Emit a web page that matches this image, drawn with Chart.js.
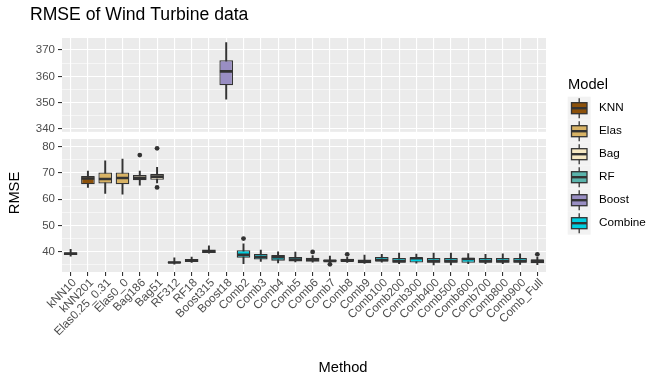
<!DOCTYPE html>
<html>
<head>
<meta charset="utf-8">
<script src="https://cdn.jsdelivr.net/npm/chart.js@4/dist/chart.umd.min.js"></script>
<style>
  html, body { margin: 0; padding: 0; background: #fff; }
  #wrap { width: 666px; height: 384px; }
</style>
</head>
<body>
<div id="wrap"><canvas id="rmseChart" width="666" height="384"></canvas></div>
<script>
const methods = ["kNN10", "kNN201", "Elas0.25_0.31", "Elas0_0", "Bag186", "Bag51", "RF312", "RF18",
  "Boost315", "Boost18", "Comb2", "Comb3", "Comb4", "Comb5", "Comb6", "Comb7", "Comb8", "Comb9",
  "Comb100", "Comb200", "Comb300", "Comb400", "Comb500", "Comb600", "Comb700", "Comb800", "Comb900", "Comb_Full"];
const modelOf = ["KNN", "KNN", "Elas", "Elas", "Bag", "Bag", "RF", "RF", "Boost", "Boost",
  "Combine", "Combine", "Combine", "Combine", "Combine", "Combine", "Combine", "Combine",
  "Combine", "Combine", "Combine", "Combine", "Combine", "Combine", "Combine", "Combine", "Combine", "Combine"];

// five-number summaries
const whiskerLow = [38.3, 64.5, 62.2, 61.9, 65.3, 66.2, 35.3, 35.9, 39.4, 351.3,
  35.4, 36.3, 35.7, 36.1, 36.0, 35.8, 35.9, 35.5, 36.0, 35.4, 35.6, 35.0, 35.0, 35.4, 35.4, 35.4, 35.2, 35.1];
const q1 = [38.7, 65.7, 66.0, 65.7, 67.2, 67.4, 35.6, 36.1, 39.5, 356.6,
  37.7, 37.0, 36.6, 36.3, 36.2, 36.2, 36.2, 35.6, 36.3, 35.8, 35.9, 35.8, 35.8, 35.8, 35.8, 35.8, 35.8, 35.6];
const median = [39.2, 67.9, 67.7, 68.1, 68.2, 68.6, 35.9, 36.6, 40.0, 361.9,
  38.8, 38.0, 37.9, 37.0, 37.0, 36.5, 36.6, 36.3, 36.8, 36.4, 37.5, 36.4, 36.4, 37.2, 36.4, 36.4, 36.4, 36.5];
const q3 = [39.8, 68.8, 70.2, 70.2, 69.2, 69.6, 36.3, 37.2, 40.8, 366.1,
  40.6, 39.1, 38.7, 38.0, 37.7, 36.9, 37.3, 37.0, 38.0, 37.6, 37.9, 37.6, 37.6, 37.7, 37.6, 37.6, 37.6, 37.0];
const whiskerHigh = [40.9, 70.7, 74.6, 75.3, 70.7, 72.1, 37.7, 38.0, 42.2, 372.8,
  43.0, 40.6, 40.0, 39.9, 38.5, 38.3, 37.9, 38.7, 39.0, 39.5, 39.1, 39.5, 39.5, 39.3, 39.0, 39.2, 39.2, 37.9];

const outlierMethod = ["Bag186", "Bag51", "Bag51", "Comb2", "Comb6", "Comb7", "Comb8", "Comb_Full"];
const outlierRmse = [76.8, 79.4, 64.5, 45.0, 39.9, 35.2, 39.0, 39.0];

const modelNames = ["KNN", "Elas", "Bag", "RF", "Boost", "Combine"];
const modelColors = ["#8C510A", "#D8B365", "#F6E8C3", "#5AB4AC", "#998EC3", "#00CFE0"];

// broken y axis: upper panel holds the one big method
const upperPanelMethods = ["Boost18"];
const upperMajor = [340, 350, 360, 370];
const upperMinor = [345, 355, 365];
const lowerMajor = [40, 50, 60, 70, 80];
const lowerMinor = [35, 45, 55, 65, 75];

const FONT = "'Liberation Sans', Arial, sans-serif";
const INK = "#333333";

const boxColors = modelOf.map((m) => modelColors[modelNames.indexOf(m)]);
const onUpper = methods.map((m) => upperPanelMethods.includes(m));

function datasetsFor(axisId, upper) {
  const keep = (v, i) => (onUpper[i] === upper ? v : null);
  const outliers = outlierMethod
    .map((m, k) => ({ x: m, y: outlierRmse[k] }))
    .filter((p) => onUpper[methods.indexOf(p.x)] === upper);
  return [
    {
      type: "line", yAxisID: axisId, order: 1, showLine: false,
      data: outliers, pointRadius: 2.4, pointBackgroundColor: INK, pointBorderWidth: 0,
    },
    {
      type: "line", yAxisID: axisId, order: 2, showLine: false,
      data: median.map(keep), pointStyle: "line", pointRadius: 6.3,
      pointBorderColor: INK, pointBorderWidth: 2.6,
    },
    {
      type: "bar", yAxisID: axisId, order: 3, grouped: false,
      data: methods.map((m, i) => keep([q1[i], q3[i]], i)),
      backgroundColor: boxColors, borderColor: INK, borderWidth: 1.3, borderSkipped: false,
      barPercentage: 0.79, categoryPercentage: 1,
    },
    {
      type: "bar", yAxisID: axisId, order: 4, grouped: false,
      data: methods.map((m, i) => keep([whiskerLow[i], whiskerHigh[i]], i)),
      backgroundColor: INK, borderWidth: 0, barThickness: 1.3,
    },
  ];
}

function yScale(min, max, weight, major, minor) {
  return {
    type: "linear", position: "left", stack: "rmse", stackWeight: weight,
    min: min, max: max,
    afterBuildTicks: (scale) => {
      scale.ticks = major.concat(minor).sort((a, b) => a - b).map((v) => ({ value: v }));
    },
    afterFit: (scale) => { scale.width = 32; },
    border: { display: false },
    grid: {
      color: "#FFFFFF",
      lineWidth: (c) => (major.includes(c.tick.value) ? 1.1 : 0.55),
      tickLength: 4,
      tickColor: (c) => (major.includes(c.tick.value) ? INK : "rgba(0,0,0,0)"),
    },
    ticks: {
      color: "#4D4D4D", font: { family: FONT, size: 11.5 }, padding: 3, autoSkip: false,
      callback: (v) => (major.includes(v) ? v : ""),
    },
  };
}

const panelBackground = {
  id: "panelBackground",
  beforeDraw(chart) {
    const { ctx, chartArea } = chart;
    const up = chart.scales.yTop;
    const low = chart.scales.y;
    ctx.save();
    ctx.fillStyle = "#EBEBEB";
    ctx.fillRect(chartArea.left, up.top, chartArea.width, up.bottom - up.top - 3.6);
    ctx.fillRect(chartArea.left, low.top + 3.6, chartArea.width, low.bottom - low.top - 3.6);
    ctx.restore();
  },
};

const titlesAndLegend = {
  id: "titlesAndLegend",
  afterDraw(chart) {
    const ctx = chart.ctx;
    ctx.save();
    ctx.fillStyle = "#000";
    ctx.textBaseline = "middle";
    ctx.font = "14.7px " + FONT;

    ctx.textAlign = "center";
    ctx.fillText("Method", 343, 368);
    ctx.save();
    ctx.translate(15, 193);
    ctx.rotate(-Math.PI / 2);
    ctx.fillText("RMSE", 0, 0);
    ctx.restore();

    // legend
    ctx.textAlign = "left";
    ctx.fillText("Model", 568, 85);
    ctx.font = "11.7px " + FONT;
    modelNames.forEach((name, i) => {
      const y0 = 96.7 + 23 * i;
      const cy = y0 + 11.5;
      ctx.fillStyle = "#F2F2F2";
      ctx.fillRect(567.7, y0, 23, 23);
      ctx.strokeStyle = INK;
      ctx.lineWidth = 1.3;
      ctx.beginPath();
      ctx.moveTo(579.2, y0 + 1.5);
      ctx.lineTo(579.2, y0 + 21.5);
      ctx.stroke();
      ctx.fillStyle = modelColors[i];
      ctx.fillRect(571.5, cy - 5.5, 15.5, 11);
      ctx.strokeRect(571.5, cy - 5.5, 15.5, 11);
      ctx.lineWidth = 2.4;
      ctx.beginPath();
      ctx.moveTo(571.5, cy);
      ctx.lineTo(587, cy);
      ctx.stroke();
      ctx.fillStyle = "#000";
      ctx.fillText(name, 599, cy);
    });
    ctx.restore();
  },
};

new Chart(document.getElementById("rmseChart").getContext("2d"), {
  type: "bar",
  data: {
    labels: methods,
    datasets: datasetsFor("y", false).concat(datasetsFor("yTop", true)),
  },
  options: {
    responsive: false,
    animation: false,
    events: [],
    layout: { padding: { left: 30, right: 120, top: 0, bottom: 0 } },
    plugins: {
      legend: { display: false },
      tooltip: { enabled: false },
      title: {
        display: true,
        text: "RMSE of Wind Turbine data",
        align: "start",
        color: "#000",
        font: { family: FONT, size: 17.6, weight: "normal" },
        padding: { top: 4.8, bottom: 12.1 },
      },
    },
    scales: {
      x: {
        type: "category",
        afterFit: (scale) => { scale.height = 112; },
        border: { display: false },
        grid: { color: "#FFFFFF", lineWidth: 1.1, offset: false, tickLength: 4, tickColor: INK },
        ticks: {
          color: "#4D4D4D", font: { family: FONT, size: 11.7 },
          minRotation: 45, maxRotation: 45, autoSkip: false, padding: 0, labelOffset: 4,
        },
      },
      y: yScale(32.27, 84.3, 136.6, lowerMajor, lowerMinor),
      yTop: yScale(337.57, 374.56, 97.4, upperMajor, upperMinor),
    },
  },
  plugins: [panelBackground, titlesAndLegend],
});
</script>
</body>
</html>
